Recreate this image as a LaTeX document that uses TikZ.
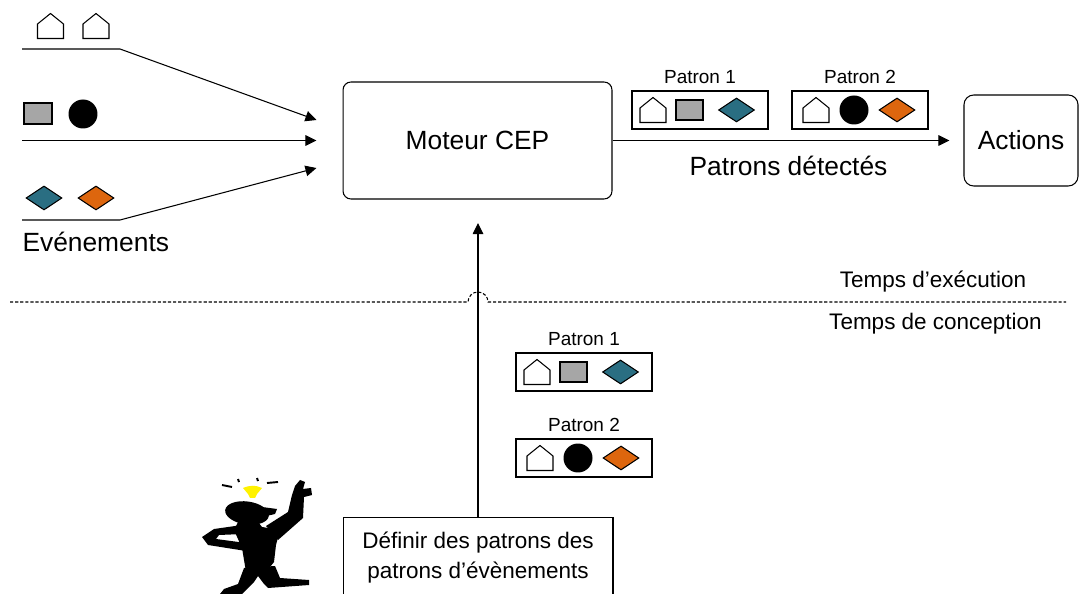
\documentclass[tikz,border=0pt]{standalone}
\usepackage{fontspec}
\setmainfont{Liberation Sans}
\usetikzlibrary{arrows.meta,shapes.geometric,calc}

\definecolor{petrol}{RGB}{42,110,130}
\definecolor{rouille}{RGB}{221,102,14}
\definecolor{gris}{RGB}{166,166,166}

% little house used as an event glyph
\tikzset{house/.pic={\draw[fill=white] (-13,12.5)--(-13,-2)--(0,-12.5)--(13,-2)--(13,12.5)--cycle;}}

\begin{document}
\begin{tikzpicture}[x=0.02cm,y=-0.02cm,line width=0.6pt,>={Triangle[length=6.3pt,width=6pt]},
big/.style={font=\fontsize{15}{18}\selectfont},
mid/.style={font=\fontsize{12.8}{17}\selectfont},
small/.style={font=\fontsize{10.8}{13}\selectfont},
rbox/.style={draw,rounded corners=4.5pt,big},
patbox/.style={draw,minimum width=2.72cm,minimum height=0.76cm,inner sep=0pt,label distance=3.5pt},
sq/.style={draw,fill=gris,minimum width=0.54cm,minimum height=0.4cm,inner sep=0pt},
blob/.style={circle,fill=black,minimum size=0.58cm,inner sep=0pt},
dia/.style={diamond,draw,shape aspect=1.5,minimum width=0.72cm,minimum height=0.48cm,inner sep=0pt}]
\useasboundingbox (0,0) rectangle (1079,594);
\clip (0,0) rectangle (1079,594);

% CEP engine and actions
\node[rbox,minimum width=5.38cm,minimum height=2.34cm] (moteur) at (477.5,140.5) {Moteur CEP};
\node[rbox,rounded corners=5.5pt,minimum width=2.28cm,minimum height=1.82cm] (actions) at (1021,140.5) {Actions};

% incoming events
\pic at (50.5,26) {house};
\pic at (96,26) {house};
\node[sq,minimum width=0.56cm,minimum height=0.42cm] (evsq) at (38,113.5) {};
\node[blob] (evci) at (83,114) {};
\node[dia,fill=petrol] (evdia1) at (44,198) {};
\node[dia,fill=rouille] (evdia2) at (96,198) {};
\coordinate (in1) at (22,49);
\coordinate (in2) at (22,140.5);
\coordinate (in3) at (22,220);
\draw[->] (in1) -- ++(98,0) -- ($(moteur.west)+(-26,-20.5)$);
\draw[->] (in2) -- ($(moteur.west)+(-26,0)$);
\draw[->] (in3) -- ++(98,0) -- ($(moteur.west)+(-26,27.5)$);
\node[big,anchor=base west,inner sep=0pt] (evts) at (22,252) {Evénements};

% detected patterns
\draw[->] (moteur.east) -- ($(actions.west)+(-14,0)$);
\node[big,anchor=base] (detect) at (788.5,176) {Patrons détectés};

\node[patbox,label={[small]above:Patron 1}] (p1a) at (700,110) {};
\node[patbox,label={[small]above:Patron 2}] (p2a) at (860,110) {};
\node[patbox,label={[small]above:Patron 1}] (p1b) at (584,372) {};
\node[patbox,label={[small]above:Patron 2}] (p2b) at (584,458) {};
\foreach \b in {p1a,p1b}{
  \pic at ($(\b)+(-47,0)$) {house};
  \node[sq] (\b sq) at ($(\b)+(-10.5,0)$) {};
  \node[dia,fill=petrol] (\b dia) at ($(\b)+(36.5,0)$) {};}
\foreach \b in {p2a,p2b}{
  \pic at ($(\b)+(-44,0)$) {house};
  \node[blob] (\b ci) at ($(\b)+(-6,0)$) {};
  \node[dia,fill=rouille] (\b dia) at ($(\b)+(37,0)$) {};}

% run time / design time
\coordinate (sepL) at (10,302);
\coordinate (sepR) at (1066,302);
\draw[line width=0.6pt,dash pattern=on 1.8pt off 1.1pt] (sepL) -- (468,302)
  arc[start angle=180,end angle=0,radius=0.2cm] -- (sepR);
\node[mid,anchor=base] (exec) at (933,288) {Temps d’exécution};
\node[mid,anchor=base] (conc) at (935.5,330) {Temps de conception};

\node[draw,mid,align=center,anchor=north,minimum width=5.4cm,inner ysep=8pt] (definir) at (478,517)
  {Définir des patrons des\\patrons d’évènements};
\coordinate (tip) at ($(moteur.south)+(0,23.5)$);
\draw[->] (definir.north) -- (definir.north |- tip);

% the designer
\fill[rotate around={-8:(247,513)}] (247,513) ellipse[x radius=0.44cm,y radius=0.23cm];
\fill (262,507) -- (277,509) -- (275,514) -- (262,517) -- cycle;
\fill (238,522) -- (258,522) -- (262,527) -- (280,530) -- (276,545) -- (274,562) -- (266,572)
  -- (246,572) -- (242,548) -- (234,530) -- cycle;
\fill (266,526) -- (288,512) -- (292,495) -- (295,486) -- (300,480) -- (305,482) -- (303,489)
  -- (311,488) -- (312,495) -- (304,497) -- (303,518) -- (278,540) -- cycle;
\fill (242,525) -- (214,529) -- (202,537) -- (208,545) -- (246,551) -- (246,543) -- (216,539)
  -- (219,535) -- (243,534) -- cycle;
\fill (244,568) -- (238,584) -- (224,589) -- (220,594) -- (242,594) -- (254,582) -- (258,576)
  -- (264,584) -- (268,588) -- (309,585) -- (309,580) -- (280,578) -- (275,566) -- cycle;
\fill[yellow] (243,488) .. controls (250,485) and (256,485) .. (262,488) -- (257,494)
  -- (255,498) -- (250,498) -- (248,494) -- cycle;
\draw[line width=1.1pt] (222,485) -- (232,487) (238,479) -- (239,482) (257,478) -- (258,481)
  (267,483) -- (278,482);
\end{tikzpicture}
\end{document}
